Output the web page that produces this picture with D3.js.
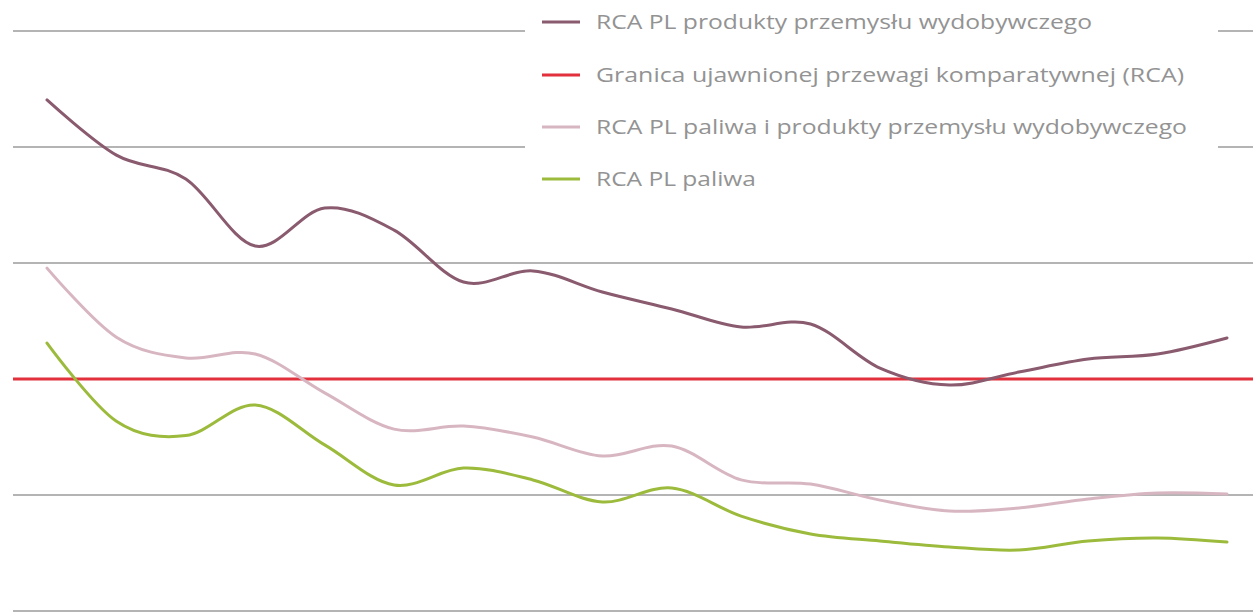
<!DOCTYPE html>
<html>
<head>
<meta charset="utf-8">
<script src="https://cdn.jsdelivr.net/npm/d3@7"></script>
<style>
html,body{margin:0;padding:0;background:#fff;}
svg{display:block;}
</style>
</head>
<body>
<svg id="chart" width="1253" height="613"></svg>
<script>
const years = [1995,1996,1997,1998,1999,2000,2001,2002,2003,2004,2005,2006,2007,2008,2009,2010,2011,2012];
const wydobywczy = [2.203,1.965,1.862,1.573,1.737,1.642,1.418,1.466,1.375,1.302,1.224,1.237,1.047,0.974,1.030,1.086,1.108,1.177];
const paliwaIWydobywczy = [1.478,1.180,1.091,1.108,0.940,0.784,0.797,0.750,0.668,0.711,0.565,0.547,0.478,0.431,0.444,0.483,0.509,0.504];
const paliwa = [1.155,0.818,0.756,0.888,0.716,0.543,0.616,0.565,0.470,0.530,0.409,0.332,0.302,0.276,0.263,0.302,0.315,0.297];
const rcaThreshold = 1;
const yTicks = [0,0.5,1,1.5,2,2.5];
const legendLabels = [
  "RCA PL produkty przemysłu wydobywczego",
  "Granica ujawnionej przewagi komparatywnej (RCA)",
  "RCA PL paliwa i produkty przemysłu wydobywczego",
  "RCA PL paliwa"
];

const svg = d3.select("#chart");
const x = d3.scalePoint().domain(years).range([47,1227]);
const y = d3.scaleLinear().domain([0,2.5]).range([611,31]);

// gridlines
svg.append("g").selectAll("line").data(yTicks.filter(d=>d!==1)).join("line")
  .attr("x1",13).attr("x2",1253)
  .attr("y1",d=>y(d)).attr("y2",d=>y(d))
  .attr("stroke","#b4b4b4").attr("stroke-width",2);

const colors = ["#8a5a6e","#e2313d","#d8b6c1","#9cbb3c"];

// threshold line
svg.append("line")
  .attr("x1",13).attr("x2",1253)
  .attr("y1",y(rcaThreshold)).attr("y2",y(rcaThreshold))
  .attr("stroke",colors[1]).attr("stroke-width",3);

const line = d3.line()
  .x((d,i)=>x(years[i]))
  .y(d=>y(d))
  .curve(d3.curveCatmullRom.alpha(0));

const series = [
  {vals: paliwaIWydobywczy, c: colors[2]},
  {vals: paliwa, c: colors[3]},
  {vals: wydobywczy, c: colors[0]}
];
series.forEach(s=>{
  svg.append("path").datum(s.vals)
    .attr("d",line).attr("fill","none")
    .attr("stroke",s.c).attr("stroke-width",3)
    .attr("stroke-linecap","round");
});

// legend
const lg = svg.append("g");
lg.append("rect").attr("x",525).attr("y",0).attr("width",693).attr("height",200).attr("fill","#fff");
const legendY = [22,75,127,179];
const legendEnds = [1092,1184,1187,756];
legendLabels.forEach((t,i)=>{
  lg.append("line").attr("x1",542).attr("x2",580)
    .attr("y1",legendY[i]).attr("y2",legendY[i])
    .attr("stroke",colors[i]).attr("stroke-width",3);
  const tx = lg.append("text").attr("x",596).attr("y",legendY[i]+7)
    .attr("font-family","'Open Sans', sans-serif")
    .attr("font-size",20)
    .attr("fill","#939393")
    .text(t);
  tx.attr("textLength",legendEnds[i]-596).attr("lengthAdjust","spacingAndGlyphs");
});
</script>
</body>
</html>
